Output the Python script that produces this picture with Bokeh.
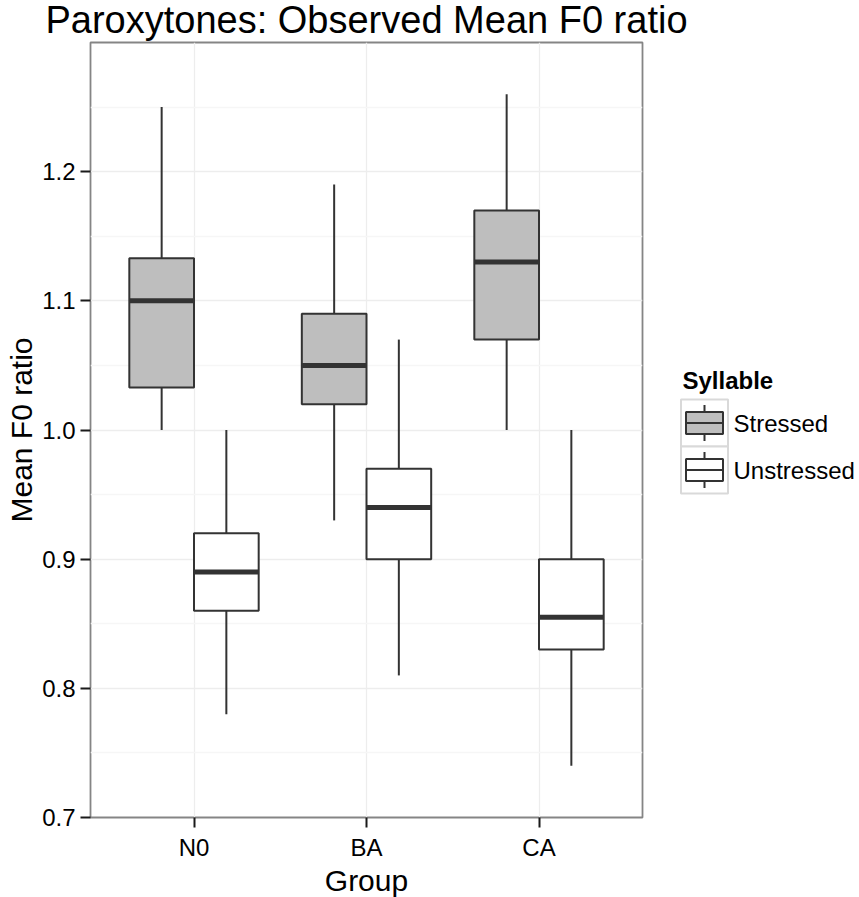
from bokeh.plotting import figure
from bokeh.models import ColumnDataSource, FactorRange, Range1d, FixedTicker, PrintfTickFormatter
from bokeh.transform import dodge
from bokeh.layouts import row, column
from bokeh.embed import file_html
from bokeh.resources import INLINE
from bokeh.core.properties import value

# ---------------- data ----------------
groups = ["N0", "BA", "CA"]
series = ["Stressed", "Unstressed"]

stressed_lower = [1.00, 0.93, 1.00]
stressed_q1 = [1.033, 1.02, 1.07]
stressed_median = [1.10, 1.05, 1.13]
stressed_q3 = [1.133, 1.09, 1.17]
stressed_upper = [1.25, 1.19, 1.26]

unstressed_lower = [0.78, 0.81, 0.74]
unstressed_q1 = [0.86, 0.90, 0.83]
unstressed_median = [0.89, 0.94, 0.855]
unstressed_q3 = [0.92, 0.97, 0.90]
unstressed_upper = [1.00, 1.07, 1.00]

y_ticks = [0.7, 0.8, 0.9, 1.0, 1.1, 1.2]
y_minor = [0.75, 0.85, 0.95, 1.05, 1.15, 1.25]

title_text = "Paroxytones: Observed Mean F0 ratio"
x_title = "Group"
y_title = "Mean F0 ratio"
legend_title = "Syllable"

# ---------------- styles ----------------
FONT = "Liberation Sans"
LINE = "#333333"
FILLS = {"Stressed": "#bebebe", "Unstressed": "#ffffff"}
OFFSETS = {"Stressed": -0.1875, "Unstressed": 0.1875}
BOX_W = 0.375
TOP = 41  # height of the title strip


def blank(fig):
    fig.outline_line_color = None
    fig.background_fill_color = "#ffffff"
    fig.border_fill_color = "#ffffff"
    return fig


# ---------------- title strip ----------------
tfig = blank(figure(
    title=None, frame_width=859, frame_height=TOP,
    x_range=Range1d(0, 859), y_range=Range1d(TOP, 0),
    x_axis_type=None, y_axis_type=None,
    min_border_left=0, min_border_right=0, min_border_top=0, min_border_bottom=0,
    output_backend="svg", toolbar_location=None,
))
tfig.text(x=[366], y=[19], text=[title_text], text_font=value(FONT), text_font_size="38px",
          text_color="#000000", text_align="center", text_baseline="middle")

# ---------------- main panel ----------------
p = figure(
    title=None,
    x_range=FactorRange(factors=groups, range_padding=0.1, range_padding_units="absolute"),
    y_range=Range1d(0.7, 1.3),
    frame_width=552, frame_height=775,
    min_border_left=90, min_border_right=17, min_border_top=1, min_border_bottom=80,
    output_backend="svg", toolbar_location=None,
)
p.background_fill_color = "#ffffff"
p.border_fill_color = "#ffffff"
p.outline_line_color = "#858585"
p.outline_line_width = 1.8

data = {
    "Stressed": (stressed_lower, stressed_q1, stressed_median, stressed_q3, stressed_upper),
    "Unstressed": (unstressed_lower, unstressed_q1, unstressed_median, unstressed_q3, unstressed_upper),
}

for name in series:
    lo, q1, med, q3, up = data[name]
    src = ColumnDataSource(dict(group=groups, lower=lo, q1=q1, med=med, q3=q3, upper=up))
    xd = dodge("group", OFFSETS[name], range=p.x_range)
    p.segment(x0=xd, y0="q3", x1=xd, y1="upper", line_color=LINE, line_width=2, source=src)
    p.segment(x0=xd, y0="q1", x1=xd, y1="lower", line_color=LINE, line_width=2, source=src)
    p.vbar(x=xd, width=BOX_W, bottom="q1", top="q3", fill_color=FILLS[name],
           line_color=LINE, line_width=2, source=src)
    p.rect(x=xd, y="med", width=BOX_W, height=5, height_units="screen",
           fill_color=LINE, line_color=None, source=src)

p.yaxis.ticker = FixedTicker(ticks=y_ticks, minor_ticks=y_minor)
p.yaxis.formatter = PrintfTickFormatter(format="%.1f")
p.ygrid.ticker = FixedTicker(ticks=y_ticks, minor_ticks=y_minor)
p.ygrid.grid_line_color = "#ededed"
p.ygrid.grid_line_width = 1.3
p.ygrid.minor_grid_line_color = "#f6f6f6"
p.ygrid.minor_grid_line_width = 1.3
p.xgrid.grid_line_color = "#ededed"
p.xgrid.grid_line_width = 1.3

for ax in (p.xaxis, p.yaxis):
    ax.axis_line_color = None
    ax.major_tick_line_color = "#1a1a1a"
    ax.major_tick_line_width = 2
    ax.major_tick_in = 0
    ax.major_tick_out = 10
    ax.minor_tick_line_color = None
    ax.major_label_text_font = FONT
    ax.major_label_text_font_size = "24px"
    ax.major_label_text_color = "#000000"
    ax.axis_label_text_font = FONT
    ax.axis_label_text_font_size = "30px"
    ax.axis_label_text_font_style = "normal"
    ax.axis_label_text_color = "#000000"

p.xaxis.axis_label = x_title
p.yaxis.axis_label = y_title
p.xaxis.major_label_standoff = 6
p.yaxis.major_label_standoff = 5
p.xaxis.axis_label_standoff = 0
p.yaxis.axis_label_standoff = 1

# ---------------- legend strip ----------------
leg = blank(figure(
    title=None, frame_width=200, frame_height=897 - TOP,
    x_range=Range1d(659, 859), y_range=Range1d(897, TOP),
    x_axis_type=None, y_axis_type=None,
    min_border_left=0, min_border_right=0, min_border_top=0, min_border_bottom=0,
    output_backend="svg", toolbar_location=None,
))

key_y = [421.5, 468.5]
key_x = [704, 704]
leg_src = ColumnDataSource(dict(
    name=series, fill=[FILLS[s] for s in series], kx=key_x, ky=key_y,
    top_w0=[y - 18 for y in key_y], top_w1=[y - 11 for y in key_y],
    bot_w0=[y + 11 for y in key_y], bot_w1=[y + 18 for y in key_y],
    bx0=[x - 18.5 for x in key_x], bx1=[x + 18.5 for x in key_x],
    tx=[733, 733], ty=[y + 0.5 for y in key_y],
))
leg.rect(x="kx", y="ky", width=47, height=47, fill_color="#ffffff",
         line_color="#d9d9d9", line_width=2, source=leg_src)
leg.segment(x0="kx", y0="top_w0", x1="kx", y1="top_w1", line_color=LINE, line_width=2, source=leg_src)
leg.segment(x0="kx", y0="bot_w0", x1="kx", y1="bot_w1", line_color=LINE, line_width=2, source=leg_src)
leg.rect(x="kx", y="ky", width=37, height=22, fill_color="fill", line_color=LINE,
         line_width=2, source=leg_src)
leg.segment(x0="bx0", y0="ky", x1="bx1", y1="ky", line_color=LINE, line_width=2, source=leg_src)
leg.text(x="tx", y="ty", text="name", text_font=value(FONT), text_font_size="24px",
         text_color="#000000", text_baseline="middle", source=leg_src)
leg.text(x=[682], y=[379], text=[legend_title], text_font=value(FONT), text_font_size="24px",
         text_font_style="bold", text_color="#000000", text_baseline="middle")

layout = column(tfig, row(p, leg))
open("out.html", "w").write(file_html(layout, INLINE))
